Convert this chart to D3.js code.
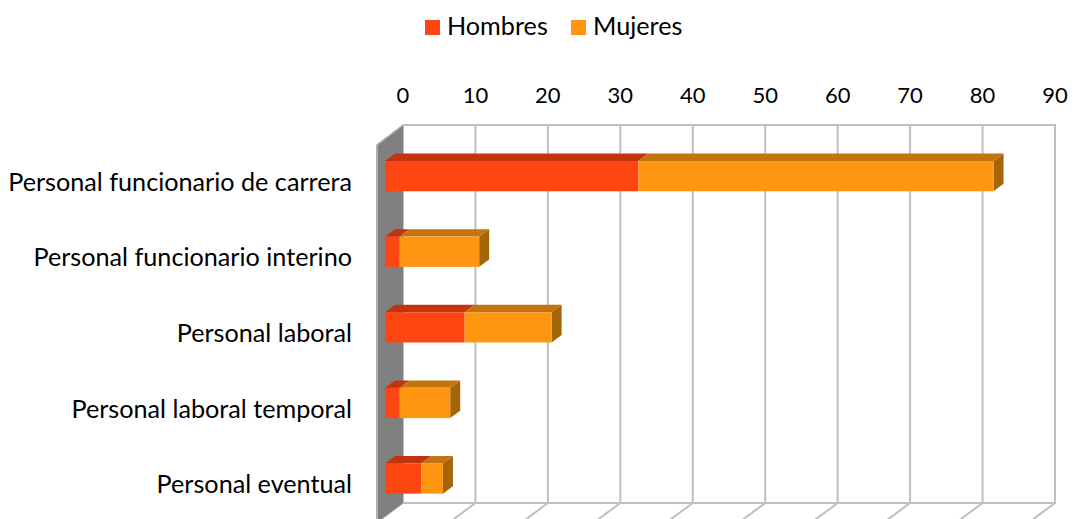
<!DOCTYPE html>
<html>
<head>
<meta charset="utf-8">
<script src="https://cdn.jsdelivr.net/npm/d3@7"></script>
<style>
  html, body { margin: 0; padding: 0; background: #ffffff; }
  svg { display: block; }
  text { font-family: Lato, "Open Sans", sans-serif; fill: #000; }
</style>
</head>
<body>
<svg id="chart" width="1075" height="519"></svg>
<script>
const categories = [
  "Personal funcionario de carrera",
  "Personal funcionario interino",
  "Personal laboral",
  "Personal laboral temporal",
  "Personal eventual"
];
const hombres = [35, 2, 11, 2, 5];
const mujeres = [49, 11, 12, 7, 3];
const tickValues = [0, 10, 20, 30, 40, 50, 60, 70, 80, 90];
const seriesNames = ["Hombres", "Mujeres"];

const colors = {
  Hombres: { front: "#FF4511", top: "#C2340C", side: "#A32A08" },
  Mujeres: { front: "#FE9612", top: "#C4740E", side: "#A5660A" }
};
const gridColor = "#BFBFBF";

const svg = d3.select("#chart");

// plot (back wall) geometry
const wall = { left: 403, right: 1055, top: 125, bottom: 503 };
const depth = { dx: -27, dy: 20 };
const barBack = 0.296, barFront = 0.667;

const x = d3.scaleLinear().domain([0, 90]).range([wall.left, wall.right]);
const y = d3.scaleBand().domain(categories).range([wall.top, wall.bottom])
  .paddingInner(0.6).paddingOuter(0.3);

const off = f => [depth.dx * f, depth.dy * f];
const poly = pts => pts.map(p => p.join(",")).join(" ");

svg.append("rect")
  .attr("x", wall.left).attr("y", wall.top)
  .attr("width", wall.right - wall.left).attr("height", wall.bottom - wall.top)
  .attr("fill", "#fff");

const [fdx, fdy] = off(1);
svg.append("g").selectAll("line").data(tickValues).join("line")
  .attr("x1", d => x(d)).attr("y1", wall.bottom)
  .attr("x2", d => x(d) + fdx).attr("y2", wall.bottom + fdy)
  .attr("stroke", gridColor).attr("stroke-width", 2);

svg.append("g").selectAll("line").data(tickValues).join("line")
  .attr("x1", d => x(d)).attr("x2", d => x(d))
  .attr("y1", wall.top).attr("y2", wall.bottom)
  .attr("stroke", gridColor).attr("stroke-width", 2);

svg.append("line").attr("x1", wall.left).attr("x2", wall.right + 1)
  .attr("y1", wall.top).attr("y2", wall.top)
  .attr("stroke", gridColor).attr("stroke-width", 2);
svg.append("line").attr("x1", wall.left).attr("x2", wall.right + 1)
  .attr("y1", wall.bottom).attr("y2", wall.bottom)
  .attr("stroke", gridColor).attr("stroke-width", 2);

svg.append("polygon")
  .attr("points", poly([
    [wall.left, wall.top],
    [wall.left, wall.bottom],
    [wall.left + fdx, wall.bottom + fdy],
    [wall.left + fdx, wall.top + fdy]
  ]))
  .attr("fill", "#808080");
svg.append("line")
  .attr("x1", wall.left + fdx + 1).attr("x2", wall.left + fdx + 1)
  .attr("y1", wall.top + fdy).attr("y2", wall.bottom + fdy)
  .attr("stroke", "#B0B0B0").attr("stroke-width", 2);
svg.append("line")
  .attr("x1", wall.left).attr("y1", wall.top)
  .attr("x2", wall.left + fdx + 1).attr("y2", wall.top + fdy)
  .attr("stroke", "#B0B0B0").attr("stroke-width", 1.5);

const stacked = categories.map((c, i) => {
  const h1 = hombres[i], m1 = hombres[i] + mujeres[i];
  return [
    { cat: c, s: "Hombres", v0: 0, v1: h1, last: false },
    { cat: c, s: "Mujeres", v0: h1, v1: m1, last: true }
  ];
});

const [bbx, bby] = off(barBack);
const [bfx, bfy] = off(barFront);
const bars = svg.append("g");

stacked.forEach(segs => {
  segs.forEach(sg => {
    const yt = y(sg.cat), yb = y(sg.cat) + y.bandwidth();
    const xa = x(sg.v0), xb = x(sg.v1);
    const col = colors[sg.s];
    bars.append("polygon")
      .attr("points", poly([[xa + bbx, yt + bby], [xb + bbx, yt + bby], [xb + bfx, yt + bfy], [xa + bfx, yt + bfy]]))
      .attr("fill", col.top);
    if (sg.last) {
      bars.append("polygon")
        .attr("points", poly([[xb + bbx, yt + bby], [xb + bbx, yb + bby], [xb + bfx, yb + bfy], [xb + bfx, yt + bfy]]))
        .attr("fill", col.side);
    }
    bars.append("rect")
      .attr("x", xa + bfx).attr("y", yt + bfy)
      .attr("width", xb - xa).attr("height", yb - yt)
      .attr("fill", col.front);
  });
});

// tick labels (top)
svg.append("g").selectAll("text").data(tickValues).join("text")
  .attr("x", d => x(d)).attr("y", 103)
  .attr("text-anchor", "middle")
  .style("font-size", "22px")
  .text(d => d);

// category labels, sized so the longest spans the same width as the reference
const catText = svg.append("g").selectAll("text").data(categories).join("text")
  .attr("x", 352)
  .attr("y", d => y(d) + y.bandwidth() / 2 + fdy + 8)
  .attr("text-anchor", "end")
  .style("font-size", "22px")
  .text(d => d);
const longest = d3.max(catText.nodes(), n => n.getComputedTextLength());
const catSize = 22 * 344 / longest;
catText.style("font-size", catSize.toFixed(2) + "px");

// legend
const legend = svg.append("g");
const legendItems = [
  { name: seriesNames[0], x: 425 },
  { name: seriesNames[1], x: 571 }
];
legendItems.forEach(it => {
  legend.append("rect").attr("x", it.x).attr("y", 20).attr("width", 15).attr("height", 15)
    .attr("fill", colors[it.name].front);
  legend.append("text").attr("x", it.x + 22).attr("y", 35)
    .style("font-size", catSize.toFixed(2) + "px").text(it.name);
});
</script>
</body>
</html>
